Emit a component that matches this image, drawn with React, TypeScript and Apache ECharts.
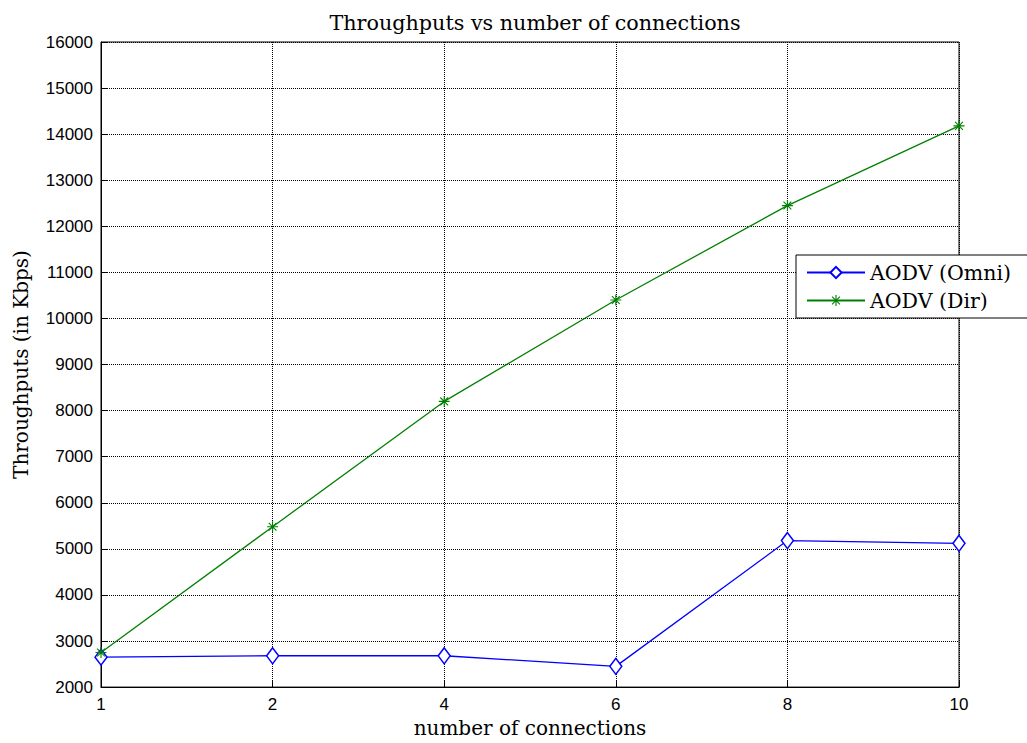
import React, { useEffect, useRef } from "react";
import * as echarts from "echarts";

const categories = ["1", "2", "4", "6", "8", "10"];
const omniValues = [2650, 2680, 2680, 2450, 5180, 5120];
const dirValues = [2750, 5480, 8200, 10400, 12450, 14180];
const seriesNames = ["AODV (Omni)", "AODV (Dir)"];

const asterisk =
  "path://M4.5 0h1v10h-1z M0 4.5h10v1h-10z M1.1 1.8l0.7-0.7 7.1 7.1-0.7 0.7z M8.2 1.1l0.7 0.7-7.1 7.1-0.7-0.7z";

export default function App() {
  const ref = useRef<HTMLDivElement>(null);
  useEffect(() => {
    if (!ref.current) return;
    const chart = echarts.init(ref.current, null, { renderer: "svg" });
    const serif = "DejaVu Serif";
    const sans = "Liberation Sans";
    chart.setOption({
      animation: false,
      backgroundColor: "#fff",
      title: {
        text: "Throughputs vs number of connections",
        left: 530,
        textAlign: "center",
        top: 7,
        textStyle: { fontFamily: serif, fontSize: 20.7, fontWeight: "normal", color: "#000" },
      },
      grid: {
        left: 101,
        right: 68,
        top: 42,
        bottom: 53,
        show: true,
        borderColor: "#000",
        borderWidth: 1,
        backgroundColor: "transparent",
      },
      legend: {
        orient: "vertical",
        left: 796,
        top: 255,
        data: seriesNames,
        itemWidth: 58,
        itemHeight: 14,
        itemGap: 7,
        padding: [7, 20, 7, 10],
        borderColor: "#000",
        borderWidth: 1,
        backgroundColor: "#fff",
        textStyle: { fontFamily: serif, fontSize: 20.5, color: "#000" },
      },
      xAxis: {
        type: "category",
        data: categories,
        boundaryGap: false,
        name: "number of connections",
        nameLocation: "middle",
        nameGap: 30,
        nameTextStyle: { fontFamily: serif, fontSize: 20, color: "#000" },
        axisLine: { lineStyle: { color: "#000", width: 1 } },
        axisTick: { inside: true, length: 6, lineStyle: { color: "#000" } },
        axisLabel: { fontFamily: sans, fontSize: 17, color: "#000", margin: 9 },
        splitLine: { show: true, lineStyle: { color: "#000", type: "dotted", width: 1 } },
      },
      yAxis: {
        type: "value",
        min: 2000,
        max: 16000,
        interval: 1000,
        name: "Throughputs (in Kbps)",
        nameLocation: "middle",
        nameGap: 70,
        nameTextStyle: { fontFamily: serif, fontSize: 20, color: "#000" },
        axisLine: { show: true, lineStyle: { color: "#000", width: 1 } },
        axisTick: { show: true, inside: true, length: 6, lineStyle: { color: "#000" } },
        axisLabel: {
          fontFamily: sans,
          fontSize: 17,
          color: "#000",
          margin: 8,
          formatter: (v: number) => String(v),
        },
        splitLine: { show: true, lineStyle: { color: "#000", type: "dotted", width: 1 } },
      },
      series: [
        {
          name: seriesNames[0],
          type: "line",
          data: omniValues,
          symbol: "diamond",
          symbolSize: [12, 16],
          itemStyle: { color: "#fff", borderColor: "#0000ff", borderWidth: 1.5 },
          lineStyle: { color: "#0000ff", width: 1.3 },
          color: "#0000ff",
        },
        {
          name: seriesNames[1],
          type: "line",
          data: dirValues,
          symbol: asterisk,
          symbolSize: 11,
          itemStyle: { color: "#008000" },
          lineStyle: { color: "#008000", width: 1.3 },
          color: "#008000",
        },
      ],
    });
    return () => chart.dispose();
  }, []);
  return (
    <div
      ref={ref}
      style={{ position: "fixed", left: 0, top: 0, width: 1027, height: 743, background: "#fff" }}
    />
  );
}
